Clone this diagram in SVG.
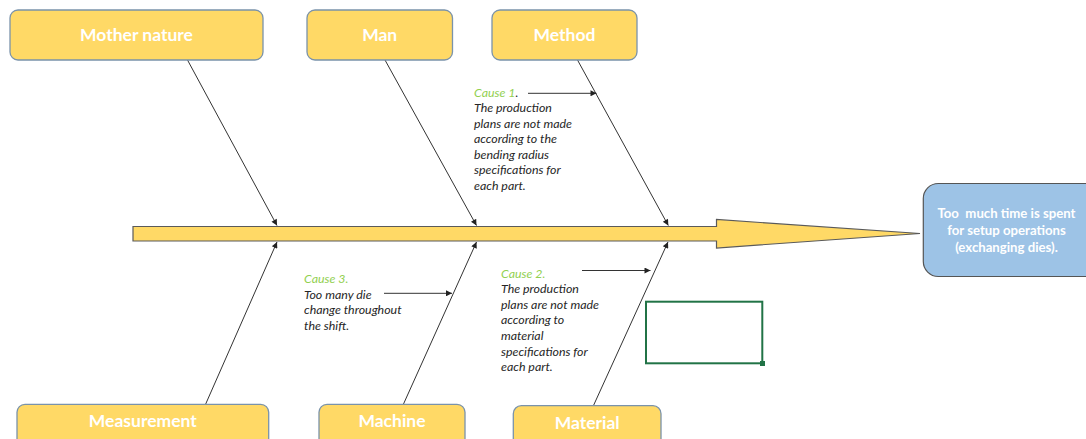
<svg xmlns="http://www.w3.org/2000/svg" width="1086" height="439" viewBox="0 0 1086 439">
<defs>
<style>
.cat{fill:#FFD966;stroke:#7A93AB;stroke-width:1.3}
.catt{font-family:Lato,"Noto Sans",sans-serif;font-weight:bold;font-size:17.5px;fill:#FFFFFF;text-anchor:middle}
.bone{stroke:#333333;stroke-width:1;fill:none;marker-end:url(#ah)}
.cause{font-family:Lato,"Noto Sans",sans-serif;font-style:italic;font-size:12.4px;fill:#262626}
.green{fill:#92D050}
.eff{font-family:Lato,"Noto Sans",sans-serif;font-weight:bold;font-size:13.2px;fill:#FFFFFF;text-anchor:middle;white-space:pre}
</style>
<marker id="ah" viewBox="0 0 10 10" refX="10" refY="5" markerWidth="9" markerHeight="6" markerUnits="userSpaceOnUse" orient="auto">
<path d="M0,0 L10,5 L0,10 z" fill="#222222"/>
</marker>
</defs>
<rect width="1086" height="439" fill="#FFFFFF"/>

<g id="spine">
<path d="M133,226.5 L716.5,226.5 L716.5,219.5 L920,233.5 L716.5,248 L716.5,241 L133,241 Z" fill="#FFD966" stroke="#5A5A5A" stroke-width="1.2"/>
</g>

<g id="connectors">
<line class="bone" x1="187.5" y1="60" x2="277" y2="225.5"/>
<line class="bone" x1="385" y1="60" x2="476.5" y2="225.5"/>
<line class="bone" x1="577.5" y1="60" x2="668.3" y2="225.5"/>
<line class="bone" x1="205.7" y1="404" x2="277" y2="242"/>
<line class="bone" x1="403.5" y1="404" x2="476.5" y2="242"/>
<line class="bone" x1="593.5" y1="405.5" x2="668" y2="242"/>
<line class="bone" x1="528" y1="93.3" x2="596.5" y2="93.3"/>
<line class="bone" x1="384" y1="293.3" x2="452" y2="293.3"/>
<line class="bone" x1="582" y1="270.5" x2="650.5" y2="270.5"/>
</g>

<g id="mother-nature">
<rect class="cat" x="10" y="10" width="253" height="50" rx="8"/>
<text class="catt" x="136.5" y="41">Mother nature</text>
</g>
<g id="man">
<rect class="cat" x="307" y="10" width="145.5" height="50" rx="8"/>
<text class="catt" x="379.7" y="41">Man</text>
</g>
<g id="method">
<rect class="cat" x="492" y="10" width="145" height="50" rx="8"/>
<text class="catt" x="564.5" y="41">Method</text>
</g>
<g id="measurement">
<rect class="cat" x="17" y="404.3" width="251.7" height="50" rx="8"/>
<text class="catt" x="142.8" y="427">Measurement</text>
</g>
<g id="machine">
<rect class="cat" x="319" y="404.3" width="146" height="50" rx="8"/>
<text class="catt" x="392" y="427">Machine</text>
</g>
<g id="material">
<rect class="cat" x="513.3" y="405.7" width="147.7" height="50" rx="8"/>
<text class="catt" x="587.2" y="428.5">Material</text>
</g>

<g id="effect">
<rect x="923.3" y="183.5" width="180" height="93" rx="15" fill="#9DC3E6" stroke="#555555" stroke-width="1.2"/>
<text class="eff" x="1006.5" y="217.5" xml:space="preserve">Too  much time is spent</text>
<text class="eff" x="1006.5" y="235">for setup operations</text>
<text class="eff" x="1006.5" y="251.5">(exchanging dies).</text>
</g>

<g id="cause-1">
<text class="cause" x="474" y="96.7"><tspan class="green">Cause 1</tspan>.</text>
<text class="cause" x="474" y="112.2">The production</text>
<text class="cause" x="474" y="127.7">plans are not made</text>
<text class="cause" x="474" y="143.2">according to the</text>
<text class="cause" x="474" y="158.7">bending radius</text>
<text class="cause" x="474" y="174.2">specifications for</text>
<text class="cause" x="474" y="189.7">each part.</text>
</g>

<g id="cause-3">
<text class="cause" x="304" y="283"><tspan class="green">Cause 3.</tspan></text>
<text class="cause" x="304" y="298.5">Too many die</text>
<text class="cause" x="304" y="314">change throughout</text>
<text class="cause" x="304" y="329.5">the shift.</text>
</g>

<g id="cause-2">
<text class="cause" x="501" y="277.5"><tspan class="green">Cause 2.</tspan></text>
<text class="cause" x="501" y="293.2">The production</text>
<text class="cause" x="501" y="308.8">plans are not made</text>
<text class="cause" x="501" y="324.4">according to</text>
<text class="cause" x="501" y="340">material</text>
<text class="cause" x="501" y="355.6">specifications for</text>
<text class="cause" x="501" y="371.2">each part.</text>
</g>

<g id="selection">
<rect x="646" y="301.7" width="116.3" height="61.6" fill="none" stroke="#217346" stroke-width="2"/>
<rect x="760" y="361" width="5" height="5" fill="#217346"/>
</g>
</svg>
